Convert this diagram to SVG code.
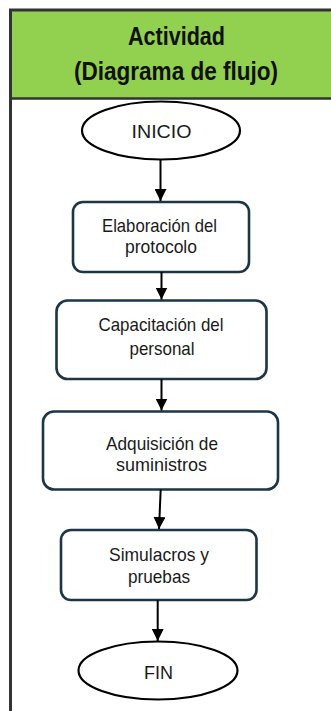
<svg xmlns="http://www.w3.org/2000/svg" width="331" height="711" viewBox="0 0 331 711">
<defs>
<style>
.frame{stroke:#333;fill:none}
.hdr{font-family:"Liberation Sans",Arial,sans-serif;font-weight:bold;font-size:25px;fill:#111;text-anchor:middle}
.term{fill:#fff;stroke:#000;stroke-width:2.2}
.box{fill:#fff;stroke:#1c3547;stroke-width:2.6}
.lbl{font-family:"Liberation Sans",Arial,sans-serif;font-size:18.5px;fill:#1a1a1a;text-anchor:middle}
.con{stroke:#000;stroke-width:2;fill:none;marker-end:url(#ah)}
</style>
<marker id="ah" markerUnits="userSpaceOnUse" markerWidth="12" markerHeight="12" viewBox="0 0 12 12" refX="12" refY="6" orient="auto">
<path d="M0,0 L12,6 L0,12 z" fill="#000"/>
</marker>
</defs>
<rect x="0" y="0" width="331" height="711" fill="#fff"/>
<g id="header">
<rect x="11" y="11" width="320" height="87" fill="#92d050"/>
<line class="frame" x1="9" y1="10" x2="331" y2="10" stroke-width="3"/>
<line class="frame" x1="10" y1="98.5" x2="331" y2="98.5" stroke-width="2.5"/>
<line class="frame" x1="10.5" y1="9" x2="10.5" y2="711" stroke-width="3"/>
<text class="hdr" x="176.5" y="45" textLength="97" lengthAdjust="spacingAndGlyphs">Actividad</text>
<text class="hdr" x="176" y="79.5" textLength="204" lengthAdjust="spacingAndGlyphs">(Diagrama de flujo)</text>
</g>
<g id="inicio">
<ellipse class="term" cx="161" cy="130.5" rx="79" ry="29"/>
<text class="lbl" x="161.5" y="137.5" font-size="18.5" textLength="60" lengthAdjust="spacingAndGlyphs">INICIO</text>
</g>
<g id="elaboracion">
<rect class="box" x="73" y="202" width="176" height="70" rx="10"/>
<text class="lbl" x="159.5" y="231.7" textLength="115" lengthAdjust="spacingAndGlyphs">Elaboración del</text>
<text class="lbl" x="161" y="252.7" textLength="72" lengthAdjust="spacingAndGlyphs">protocolo</text>
</g>
<g id="capacitacion">
<rect class="box" x="56.5" y="300.5" width="210" height="78.5" rx="11"/>
<text class="lbl" x="161" y="331" textLength="125" lengthAdjust="spacingAndGlyphs">Capacitación del</text>
<text class="lbl" x="162" y="355" textLength="65" lengthAdjust="spacingAndGlyphs">personal</text>
</g>
<g id="adquisicion">
<rect class="box" x="43" y="411.5" width="235" height="78" rx="11"/>
<text class="lbl" x="162" y="449.5" textLength="112" lengthAdjust="spacingAndGlyphs">Adquisición de</text>
<text class="lbl" x="161.5" y="471" textLength="91" lengthAdjust="spacingAndGlyphs">suministros</text>
</g>
<g id="simulacros">
<rect class="box" x="61" y="530" width="195.5" height="70" rx="10"/>
<text class="lbl" x="159" y="560.7" textLength="100" lengthAdjust="spacingAndGlyphs">Simulacros y</text>
<text class="lbl" x="159" y="583.3" textLength="62" lengthAdjust="spacingAndGlyphs">pruebas</text>
</g>
<g id="fin">
<ellipse class="term" cx="158" cy="670.5" rx="79.5" ry="29"/>
<text class="lbl" x="158.5" y="678.5" font-size="19" textLength="29" lengthAdjust="spacingAndGlyphs">FIN</text>
</g>
<g id="connectors">
<line class="con" x1="160.5" y1="159.5" x2="160.5" y2="201"/>
<line class="con" x1="161.5" y1="272" x2="161.5" y2="299.5"/>
<line class="con" x1="161.5" y1="379" x2="161.5" y2="410.5"/>
<line class="con" x1="160.7" y1="489.5" x2="159" y2="529"/>
<line class="con" x1="157.7" y1="600" x2="157.7" y2="641"/>
</g>
</svg>
